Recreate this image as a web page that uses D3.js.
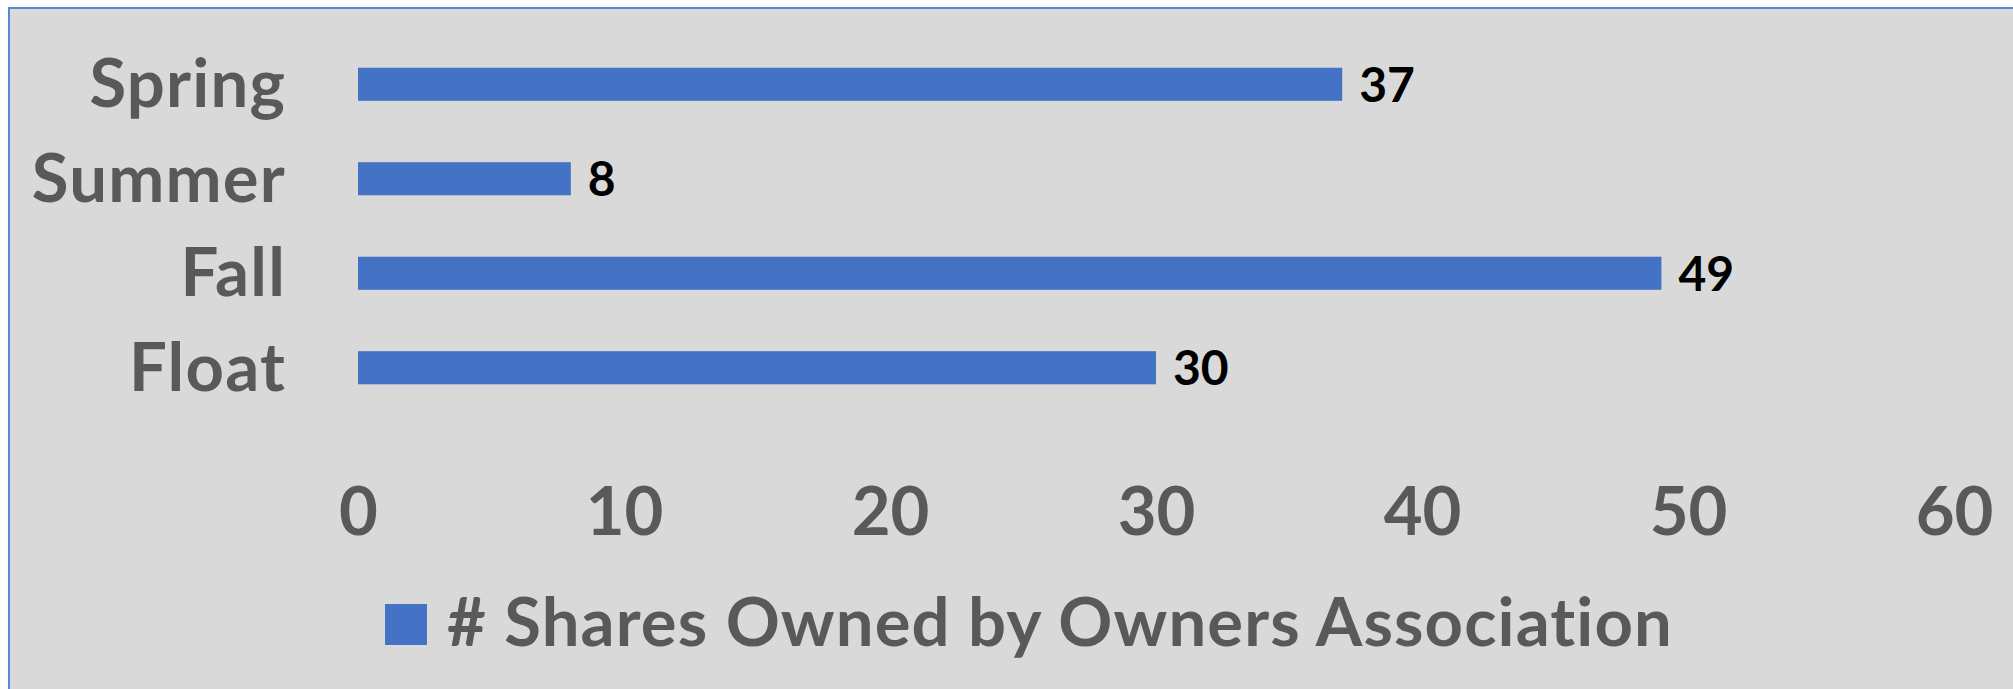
<!DOCTYPE html>
<html>
<head>
<meta charset="utf-8">
<script src="https://cdn.jsdelivr.net/npm/d3@7"></script>
<style>
  html, body { margin: 0; padding: 0; background: #ffffff; }
  svg { display: block; }
</style>
</head>
<body>
<svg id="chart" width="2013" height="689"></svg>
<script>
// data
const categories = ["Spring", "Summer", "Fall", "Float"];
const shares = [37, 8, 49, 30];
const xTicks = [0, 10, 20, 30, 40, 50, 60];
const seriesName = "# Shares Owned by Owners Association";

const W = 2013, H = 689;
const font = "Lato, 'Open Sans', sans-serif";
const grey = "#595959";
const barColor = "#4472C4";

const svg = d3.select("#chart");

// chart area (top and left border only, the rest is cut off)
svg.append("rect")
    .attr("x", 9)
    .attr("y", 8)
    .attr("width", W + 10)
    .attr("height", H + 10)
    .attr("fill", "#D9D9D9")
    .attr("stroke", "#5B86D0")
    .attr("stroke-width", 2);

// scales
const x = d3.scaleLinear().domain([0, 60]).range([358, 1954]);
const y = d3.scaleBand()
    .domain(categories)
    .range([37, 415])
    .paddingInner(0.65)
    .paddingOuter(0.325);

const rows = categories.map((c, i) => ({name: c, value: shares[i]}));

//柱子
svg.append("g")
    .selectAll("rect")
    .data(rows)
    .join("rect")
    .attr("x", x(0))
    .attr("y", d => y(d.name))
    .attr("width", d => x(d.value) - x(0))
    .attr("height", y.bandwidth())
    .attr("fill", barColor);

//数据标签
svg.append("g")
    .selectAll("text")
    .data(rows)
    .join("text")
    .text(d => d.value)
    .attr("x", d => x(d.value) + 17)
    .attr("y", d => y(d.name) + y.bandwidth() / 2)
    .attr("dy", "0.36em")
    .attr("font-family", font)
    .attr("font-weight", 700)
    .attr("font-size", 48)
    .attr("fill", "#000000");

//类别标签
svg.append("g")
    .selectAll("text")
    .data(categories)
    .join("text")
    .text(d => d)
    .attr("x", 286)
    .attr("y", d => y(d) + y.bandwidth() / 2)
    .attr("dy", "0.34em")
    .attr("text-anchor", "end")
    .attr("font-family", font)
    .attr("font-weight", 700)
    .attr("font-size", 67)
    .attr("letter-spacing", 1.2)
    .attr("fill", grey);

//横轴
const xAxis = svg.append("g")
    .attr("transform", "translate(0,535)")
    .call(d3.axisBottom(x).tickValues(xTicks).tickSize(0).tickPadding(0));

xAxis.select(".domain").remove();
xAxis.selectAll("text")
    .attr("y", 0)
    .attr("dy", 0)
    .attr("font-family", font)
    .attr("font-weight", 700)
    .attr("font-size", 67)
    .attr("fill", grey);

//图例
const legend = svg.append("g");
legend.append("rect")
    .attr("x", 385)
    .attr("y", 604)
    .attr("width", 42)
    .attr("height", 41)
    .attr("fill", barColor);

legend.append("text")
    .text(seriesName)
    .attr("x", 447)
    .attr("y", 646)
    .attr("font-family", font)
    .attr("font-weight", 700)
    .attr("font-size", 67)
    .attr("letter-spacing", 1.1)
    .attr("fill", grey);
</script>
</body>
</html>
